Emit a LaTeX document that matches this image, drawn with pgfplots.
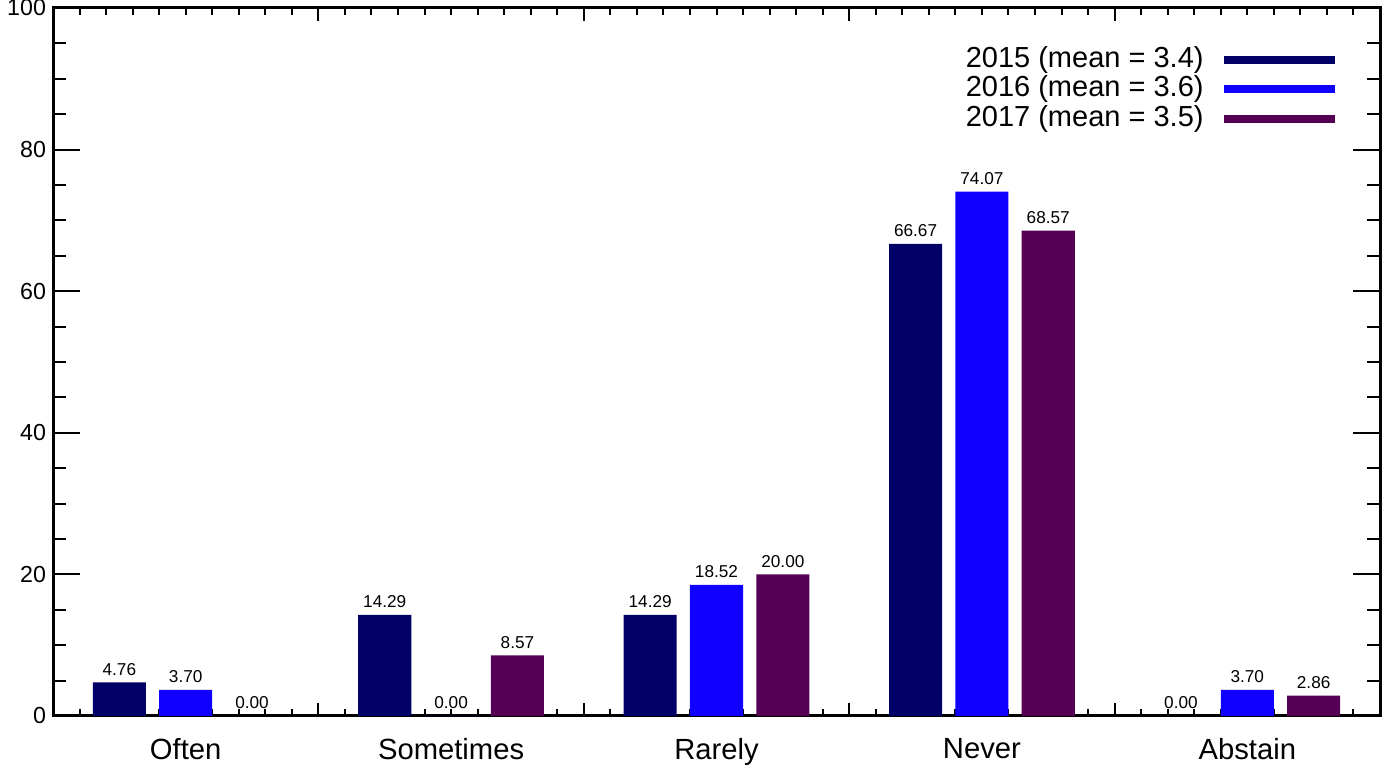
\documentclass[border=0pt]{standalone}
\usepackage{pgfplots}
\pgfplotsset{compat=1.18}
\usepackage{fontspec}
\setmainfont{Liberation Sans}
\definecolor{c2015}{RGB}{0,0,102}
\definecolor{c2016}{RGB}{15,0,255}
\definecolor{c2017}{RGB}{85,0,85}
\begin{document}
\begin{tikzpicture}
% x ticks only, drawn first so the bars lie over them
\begin{axis}[
    scale only axis,
    width=663.5pt, height=354pt,
    xmin=-0.5, xmax=4.5,
    ymin=0, ymax=100,
    axis line style={draw=none},
    tick style={black, line width=1pt},
    tick align=inside,
    xtick={0.5,1.5,2.5,3.5},
    xticklabels={},
    minor xtick={-0.4,-0.3,-0.2,-0.1,0,0.1,0.2,0.3,0.4,0.6,0.7,0.8,0.9,1,1.1,1.2,1.3,1.4,1.6,1.7,1.8,1.9,2,2.1,2.2,2.3,2.4,2.6,2.7,2.8,2.9,3,3.1,3.2,3.3,3.4,3.6,3.7,3.8,3.9,4,4.1,4.2,4.3,4.4},
    ytick=\empty,
    major tick length=6.5pt,
    minor tick length=3.5pt,
]
\end{axis}
\begin{axis}[
    scale only axis,
    width=663.5pt, height=354pt,
    xmin=-0.5, xmax=4.5,
    ymin=0, ymax=100,
    axis line style={line width=1.5pt},
    tick style={black, line width=1pt},
    tick align=inside,
    xtick={0,1,2,3,4},
    xticklabels={Often, Sometimes, Rarely, Never, Abstain},
    xtick style={draw=none},
    xticklabel style={font=\fontsize{14.6}{17}\selectfont, yshift=6pt},
    ytick={0,20,40,60,80,100},
    minor y tick num=3,
    major tick length=13.5pt,
    minor tick length=6.5pt,
    yticklabel style={font=\fontsize{11.6}{13}\selectfont},
    /pgf/number format/assume math mode=true,
    ybar=0pt,
    bar width=0.2,
    nodes near coords,
    nodes near coords style={font=\fontsize{8.6}{10}\selectfont,
        /pgf/number format/.cd, fixed, fixed zerofill, precision=2, assume math mode=true},
    legend plot pos=right,
    legend cell align=right,
    legend style={draw=none, fill=none, at={(0.9736,0.952)}, anchor=north east,
        font=\fontsize{14.5}{17}\selectfont, row sep=1.25pt, column sep=8pt,
        nodes={inner sep=0pt, text height=10.5pt, text depth=3pt}},
]
\addlegendimage{legend image code/.code={\draw[line width=4pt,c2015] (0pt,0pt) -- (55.5pt,0pt);}}
\addlegendentry{2015 (mean = 3.4)}
\addlegendimage{legend image code/.code={\draw[line width=4pt,c2016] (0pt,0pt) -- (55.5pt,0pt);}}
\addlegendentry{2016 (mean = 3.6)}
\addlegendimage{legend image code/.code={\draw[line width=4pt,c2017] (0pt,0pt) -- (55.5pt,0pt);}}
\addlegendentry{2017 (mean = 3.5)}

\addplot[forget plot, fill=c2015, draw=none, bar shift=-0.25] coordinates {(0,4.76) (1,14.29) (2,14.29) (3,66.67) (4,0.00)};
\addplot[forget plot, fill=c2016, draw=none, bar shift=0] coordinates {(0,3.70) (1,0.00) (2,18.52) (3,74.07) (4,3.70)};
\addplot[forget plot, fill=c2017, draw=none, bar shift=0.25] coordinates {(0,0.00) (1,8.57) (2,20.00) (3,68.57) (4,2.86)};
\end{axis}
\pgfresetboundingbox
\path (current axis.south west) ++(-26.5pt,-26pt) coordinate (bbsw);
\path (current axis.north east) ++(4.5pt,4pt) coordinate (bbne);
\useasboundingbox (bbsw) rectangle (bbne);
\end{tikzpicture}
\end{document}
